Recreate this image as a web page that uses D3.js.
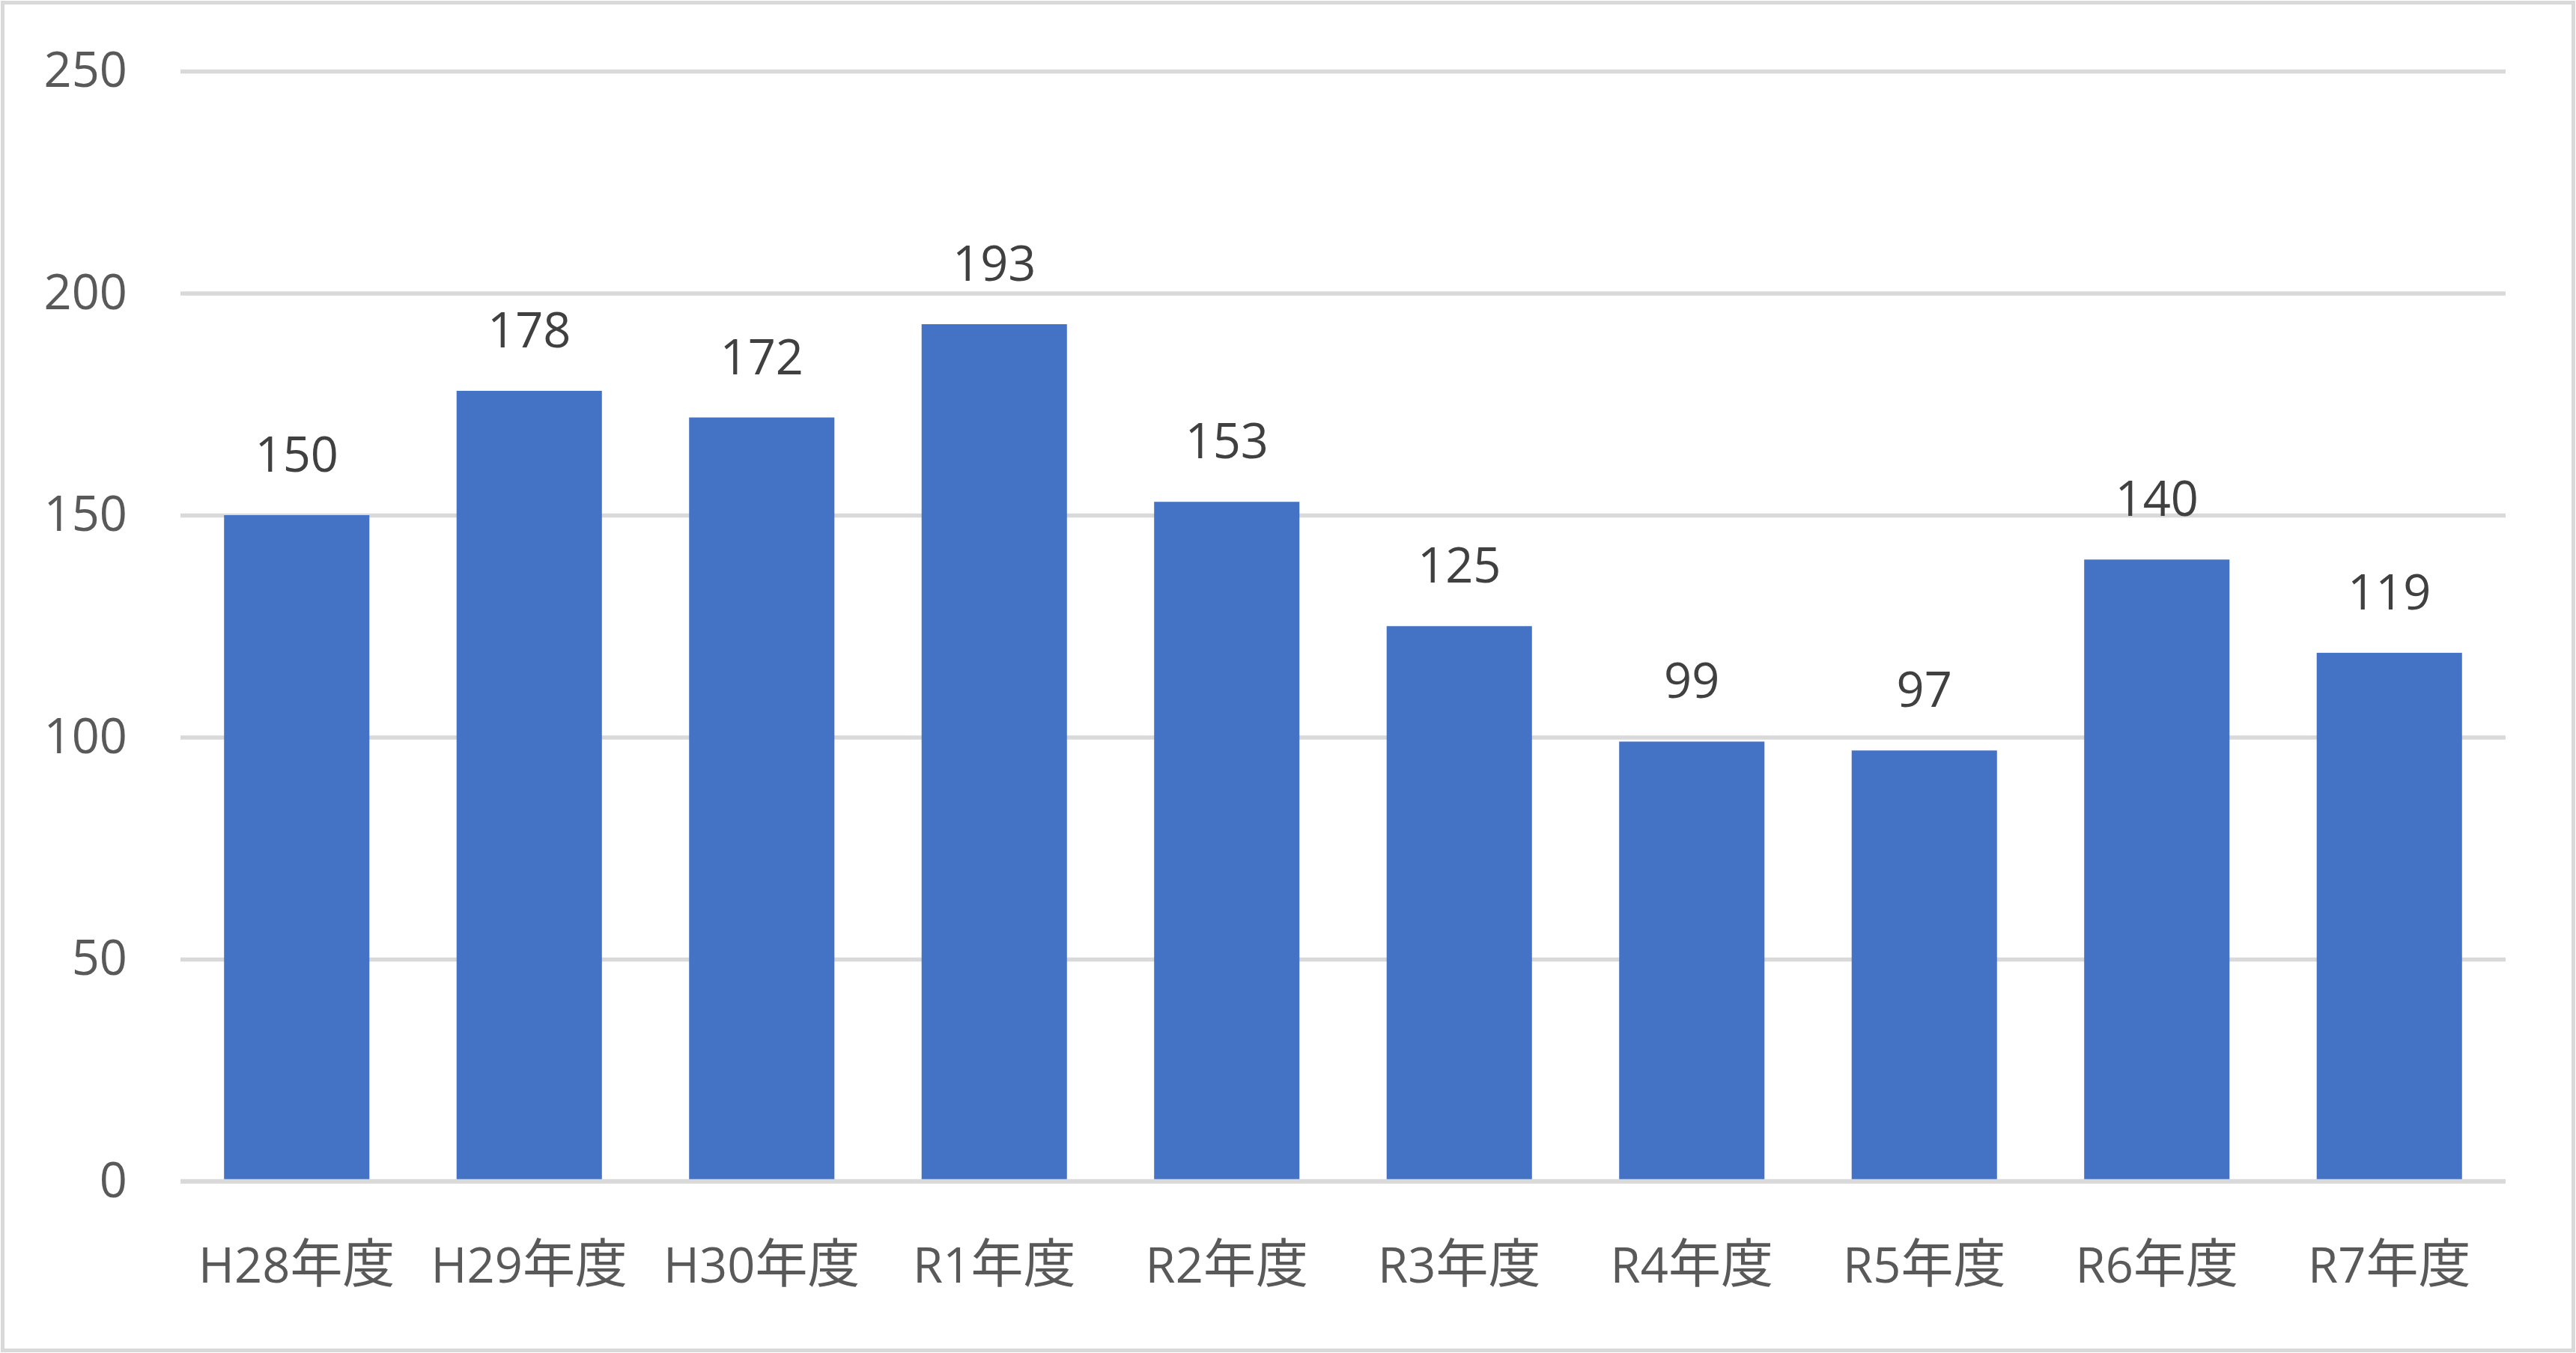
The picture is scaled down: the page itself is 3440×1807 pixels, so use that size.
<!DOCTYPE html>
<html>
<head>
<meta charset="utf-8">
<script src="https://cdn.jsdelivr.net/npm/d3@7"></script>
<style>
  body { margin: 0; background: #fff; }
  svg { display: block; }
</style>
</head>
<body>
<svg id="chart" width="3440" height="1807"></svg>
<script>
const categories = ["H28年度", "H29年度", "H30年度", "R1年度", "R2年度", "R3年度", "R4年度", "R5年度", "R6年度", "R7年度"]
const values = [150, 178, 172, 193, 153, 125, 99, 97, 140, 119]
const yTicks = [0, 50, 100, 150, 200, 250]

const w = 3440
const h = 1807
const plotLeft = 241
const plotRight = 3346
const plotTop = 95
const plotBottom = 1577.5
const fontSize = 65
const gridColor = "#d9d9d9"

const svg = d3.select("#chart")

// frame round the whole chart
svg.append("rect")
  .attr("x", 3.5)
  .attr("y", 3.5)
  .attr("width", w - 7)
  .attr("height", h - 7)
  .attr("fill", "#fff")
  .attr("stroke", gridColor)
  .attr("stroke-width", 5)

const xScale = d3.scaleBand()
  .domain(categories)
  .range([plotLeft, plotRight])
  .paddingInner(0.375)
  .paddingOuter(0.1875)

const yScale = d3.scaleLinear()
  .domain([0, 250])
  .range([plotBottom, plotTop])

const yAxis = d3.axisLeft(yScale)
  .tickValues(yTicks)
  .tickSize(-(plotRight - plotLeft))
  .tickPadding(71)

const yG = svg.append("g")
  .attr("transform", `translate(${plotLeft}, 0)`)
  .call(yAxis)

yG.select(".domain").remove()
yG.selectAll(".tick line")
  .attr("stroke", gridColor)
  .attr("stroke-width", 5.5)
yG.selectAll(".tick text")
  .attr("fill", "#595959")
  .attr("font-family", "'Open Sans', sans-serif")
  .attr("font-size", fontSize)

svg.selectAll("rect.bar")
  .data(values)
  .enter()
  .append("rect")
  .attr("class", "bar")
  .attr("x", (d, i) => xScale(categories[i]))
  .attr("y", d => yScale(d))
  .attr("width", xScale.bandwidth())
  .attr("height", d => yScale(0) - yScale(d))
  .attr("fill", "#4472c4")

// baseline on top of the bars
svg.append("line")
  .attr("x1", plotLeft)
  .attr("x2", plotRight)
  .attr("y1", yScale(0))
  .attr("y2", yScale(0))
  .attr("stroke", gridColor)
  .attr("stroke-width", 5.5)

svg.selectAll("text.value")
  .data(values)
  .enter()
  .append("text")
  .attr("class", "value")
  .attr("x", (d, i) => xScale(categories[i]) + xScale.bandwidth() / 2)
  .attr("y", d => yScale(d) - 58)
  .attr("text-anchor", "middle")
  .attr("fill", "#404040")
  .attr("font-family", "'Open Sans', sans-serif")
  .attr("font-size", fontSize)
  .text(d => d)

const catText = svg.selectAll("text.cat")
  .data(categories)
  .enter()
  .append("text")
  .attr("class", "cat")
  .attr("x", d => xScale(d) + xScale.bandwidth() / 2)
  .attr("y", yScale(0) + 135)
  .attr("text-anchor", "middle")
  .attr("fill", "#595959")
  .attr("font-family", "'Open Sans', sans-serif")
  .attr("font-size", fontSize)

catText.append("tspan")
  .text(d => d.replace("年度", ""))
catText.append("tspan")
  .attr("font-family", "'Noto Sans CJK JP', sans-serif")
  .attr("font-size", 70)
  .text("年度")
</script>
</body>
</html>
